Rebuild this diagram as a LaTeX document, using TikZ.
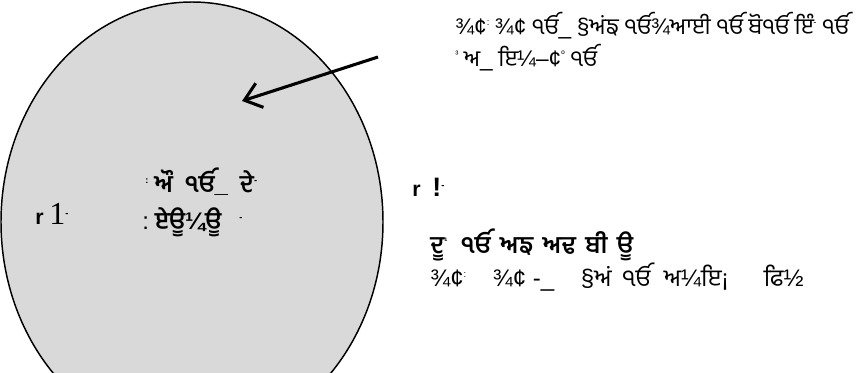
\documentclass[tikz,border=0pt]{standalone}
\usepackage{fontspec}
\usetikzlibrary{arrows.meta,shapes.geometric}
\newfontfamily\gur[Script=Gurmukhi]{Hind Jalandhar}
\newfontfamily\lat{Liberation Sans}
\newfontfamily\ser{Liberation Serif}
\newcommand\lt[1]{{\lat #1}}
\newcommand\up[1]{\raisebox{0.7ex}{\lat\scriptsize #1}}
\definecolor{discgray}{RGB}{217,217,217}
\begin{document}
\begin{tikzpicture}[x=0.75pt,y=-0.75pt,
  txt/.style={inner sep=0pt, anchor=base west, font=\gur\fontsize{18}{21}\selectfont},
  toptxt/.style={txt, font=\gur\fontsize{17}{20}\selectfont},
  btxt/.style={txt, font=\gur\bfseries\fontsize{18}{21}\selectfont},
  lbl/.style={inner sep=0pt, anchor=base west, font=\lat\bfseries\fontsize{16}{19}\selectfont}]
\useasboundingbox (0,0) rectangle (868,372);
\clip (0,0) rectangle (868,372);
\node (disc) [ellipse, draw, line width=1.1pt, fill=discgray, inner sep=0pt,
  minimum width=286.5pt, minimum height=330pt] at (192,222) {};
\node (a1) [toptxt] at (455,34) {\lt{¾¢}\up{:} \lt{¾¢} ੴ\lt{\_} \lt{§}ਅਂਙ ੴ\lt{¾}ਆਈ ੴ ਬੋੴ ਇੰ\up{-} ੴ};
\node (a2) [toptxt] at (455,66) {\up{³} ਅ\lt{\_} ਇ\lt{¼–¢}\up{º} ੴ};
\node (c1) [btxt] at (145,192) {\up{:}\ ਔ\ \ ੴ\lt{\_}\ \ ਦੇ\up{-}};
\node (c2) [btxt] at (142,229) {\lt{\mdseries:}\ ਏਊ\lt{¼}ਊ\ \ \ \up{-}};
\node (l1) [lbl] at (35,224) {r\ {\ser\mdseries\fontsize{24}{26}\selectfont 1}\up{-}};
\node (r1) [lbl] at (412,196) {r\ \ {\fontsize{20}{22}\selectfont !}\up{-}};
\node (r2) [btxt] at (430,253) {ਦੂ\up{¹}\hspace{10pt}ੴ\hspace{7pt}ਅਙ\hspace{7pt}ਅਢ\hspace{7pt}ਬੀ\hspace{7pt}ਊ};
\node (r3) [txt] at (430,286) {\lt{¾¢}\up{:}\hspace{20pt}\lt{¾¢ -\_}\hspace{20pt}\lt{§}ਅਂ\hspace{8pt}ੴ\hspace{10pt}ਅ\lt{¼}ਇ\lt{¡}\hspace{26pt}ਫਿ\lt{½}};
\coordinate (tail) at (378,57);
\coordinate (head) at (242,101);
\draw[line width=2.3pt, -{Straight Barb[length=12pt,width=19pt]}] (tail) -- (head);
\end{tikzpicture}
\end{document}
